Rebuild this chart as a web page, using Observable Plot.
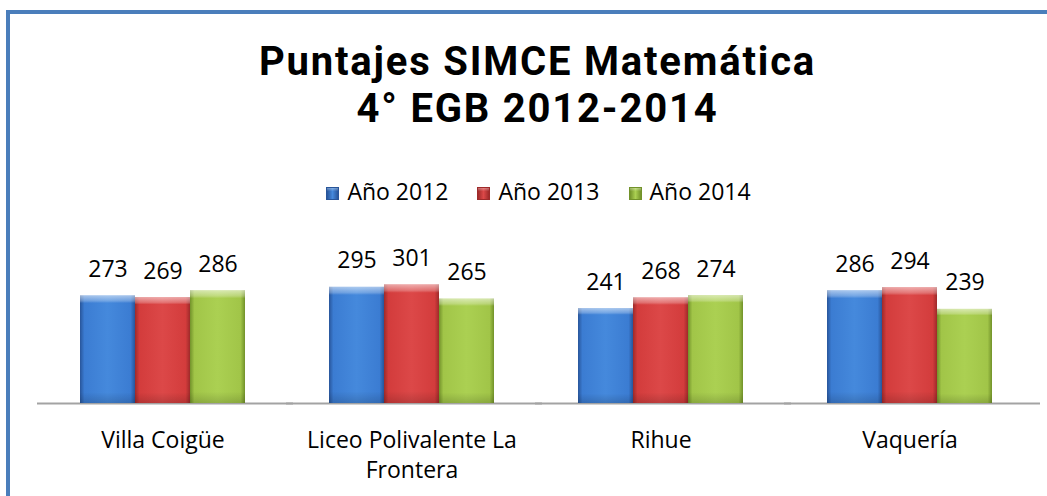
<!DOCTYPE html>
<html><head><meta charset="utf-8">
<script src="https://cdn.jsdelivr.net/npm/d3@7"></script>
<script src="https://cdn.jsdelivr.net/npm/@observablehq/plot@0.6"></script>
<style>
body{margin:0;background:#fff;}
#wrap{position:relative;width:1047px;height:496px;overflow:hidden;font-family:'Open Sans',sans-serif;background:#fff;}
#border{position:absolute;left:6px;top:10px;width:2000px;height:2000px;border:4px solid #4a7ebb;box-sizing:border-box;}
#title{position:absolute;left:0;width:1075px;top:38px;text-align:center;font-family:Roboto,'Open Sans',sans-serif;font-weight:700;font-size:40px;line-height:47px;letter-spacing:1.8px;color:#000;}
#legend{position:absolute;left:0;width:1077px;top:176px;display:flex;justify-content:center;gap:29px;font-size:23px;line-height:30px;color:#000;}
#legend .item{display:flex;align-items:baseline;}
#legend .sw{display:inline-block;width:13px;height:13px;margin-right:8px;box-sizing:border-box;}
#chart{position:absolute;left:0;top:0;}
</style>
</head><body>
<div id="wrap">
  <div id="border"></div>
  <div id="title">Puntajes SIMCE Matemática<br>4° EGB 2012-2014</div>
  <div id="legend"></div>
  <div id="chart"></div>
</div>
<script>
const schools = ["Villa Coigüe", "Liceo Polivalente La Frontera", "Rihue", "Vaquería"];
const schoolLabels = ["Villa Coigüe", "Liceo Polivalente La\nFrontera", "Rihue", "Vaquería"];
const years = ["Año 2012", "Año 2013", "Año 2014"];
const scores2012 = [273, 295, 241, 286];
const scores2013 = [269, 301, 268, 294];
const scores2014 = [286, 265, 274, 239];
const yearColors = [
  ["#28559a", "#3b7cd2", "#4589dc"],
  ["#9e2a2a", "#d33c3c", "#dc4848"],
  ["#72922a", "#a1c548", "#abd052"]
];

const series = [scores2012, scores2013, scores2014];
const data = [];
schools.forEach((s, si) => years.forEach((y, yi) => data.push({school: s, year: y, value: series[yi][si]})));

// legend
const legend = document.getElementById("legend");
years.forEach((y, i) => {
  const item = document.createElement("div");
  item.className = "item";
  const sw = document.createElement("span");
  sw.className = "sw";
  const [e, m, c] = yearColors[i];
  sw.style.background = `linear-gradient(to bottom, rgba(255,255,255,0.35) 0, rgba(255,255,255,0) 30%), linear-gradient(to right, ${e}, ${c} 50%, ${e})`;
  sw.style.border = `1px solid ${e}`;
  item.appendChild(sw);
  item.appendChild(document.createTextNode(y));
  legend.appendChild(item);
});

const chart = Plot.plot({
  width: 1047,
  height: 496,
  marginLeft: 38,
  marginRight: 13,
  marginTop: 277,
  marginBottom: 93,
  style: {fontFamily: "'Open Sans', sans-serif", background: "transparent", overflow: "visible", color: "#000"},
  fx: {domain: schools, paddingInner: 0.33, paddingOuter: 0.165, axis: null, label: null},
  x: {domain: years, padding: 0, axis: null},
  y: {domain: [0, 320], axis: null},
  marks: [
    Plot.ruleY([0], {stroke: "#a3a3a3", strokeWidth: 2, insetLeft: -42, insetRight: -47}),
    ...years.map((yr, i) => Plot.barY(data.filter(d => d.year === yr), {fx: "school", x: "year", y: "value", fill: `url(#grad${i})`})),
    Plot.barY(data, {fx: "school", x: "year", y: "value", fill: "url(#bevel)"}),
    Plot.text(data, {fx: "school", x: "year", y: "value", text: d => String(d.value), dy: -19, lineAnchor: "bottom", fontSize: 23, fill: "#000"}),
    Plot.text(schools, {fx: d => d, text: (d, i) => schoolLabels[schools.indexOf(d)], frameAnchor: "bottom", lineAnchor: "top", lineHeight: 1.3, dy: 23, fontSize: 23, fill: "#000"})
  ]
});

const defs = d3.select(chart).insert("defs", ":first-child");
yearColors.forEach(([e, m, c], i) => {
  const g = defs.append("linearGradient").attr("id", `grad${i}`).attr("x1", 0).attr("x2", 1).attr("y1", 0).attr("y2", 0);
  [[0, e], [0.08, m], [0.5, c], [0.92, m], [1, e]].forEach(([o, col]) => g.append("stop").attr("offset", o).attr("stop-color", col));
});
const bv = defs.append("linearGradient").attr("id", "bevel").attr("x1", 0).attr("x2", 0).attr("y1", 0).attr("y2", 1);
[[0, "#fff", 0.55], [0.05, "#fff", 0.25], [0.07, "#fff", 0], [0.9, "#000", 0], [1, "#000", 0.15]].forEach(([o, col, op]) =>
  bv.append("stop").attr("offset", o).attr("stop-color", col).attr("stop-opacity", op));

document.getElementById("chart").appendChild(chart);
</script>
</body></html>
